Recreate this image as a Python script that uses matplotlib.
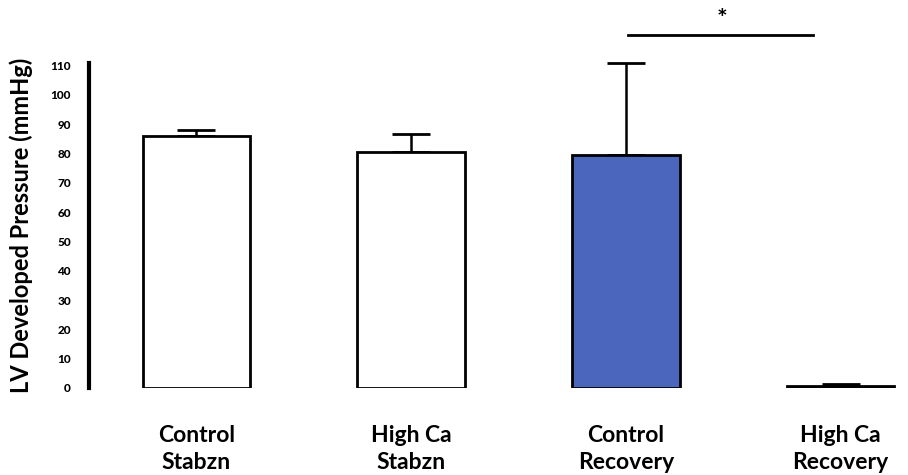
import matplotlib.pyplot as plt
import numpy as np

plt.rcParams['font.family'] = ['Lato', 'DejaVu Sans']

groups = ["Control\nStabzn", "High Ca\nStabzn", "Control\nRecovery", "High Ca\nRecovery"]
means = [86, 80.5, 79.5, 0.6]
sems = [2, 6.2, 31.5, 0.6]
colors = ["white", "white", "#4a67bd", "white"]
yticks = [0, 10, 20, 30, 40, 50, 60, 70, 80, 90, 100, 110]

fig = plt.figure(figsize=(9.08, 4.75), dpi=100)
ax = fig.add_axes([89/908, 1 - 388/475, (905 - 89)/908, (388 - 10)/475])

x = np.arange(len(groups))
ax.bar(x, means, width=0.5, color=colors, edgecolor="black", linewidth=2, zorder=2)
ax.errorbar(x, means, yerr=[np.zeros(len(sems)), sems], fmt="none",
            ecolor="black", elinewidth=1.8, capsize=14, capthick=2, zorder=1)

# significance bar between the two recovery groups
ax.plot([2.01, 2.87], [120.5, 120.5], color="black", linewidth=2, clip_on=False)
ax.text(2.45, 122, "*", ha="center", va="bottom", fontsize=18, fontweight="bold")

ax.set_xlim(-0.5, 3.3)
ax.set_ylim(0, 129)
ax.set_yticks(yticks)
ax.set_yticklabels([str(t) for t in yticks], fontsize=8.5, fontweight="black")
ax.tick_params(axis="y", length=0, pad=13)
ax.set_xticks([])

for sp in ["top", "right", "bottom"]:
    ax.spines[sp].set_visible(False)
ax.spines["left"].set_linewidth(3)
ax.spines["left"].set_bounds(0, 111)

for xi, g in zip(x, groups):
    ax.text(xi, -12.5, g, ha="center", va="top", fontsize=16.5, fontweight="bold",
            linespacing=1.35, transform=ax.transData, clip_on=False)

fig.text(21/908, 1 - 225/475, "LV Developed Pressure (mmHg)", rotation=90,
         ha="center", va="center", fontsize=17, fontweight="bold")

fig.savefig("out.png", dpi=100)
